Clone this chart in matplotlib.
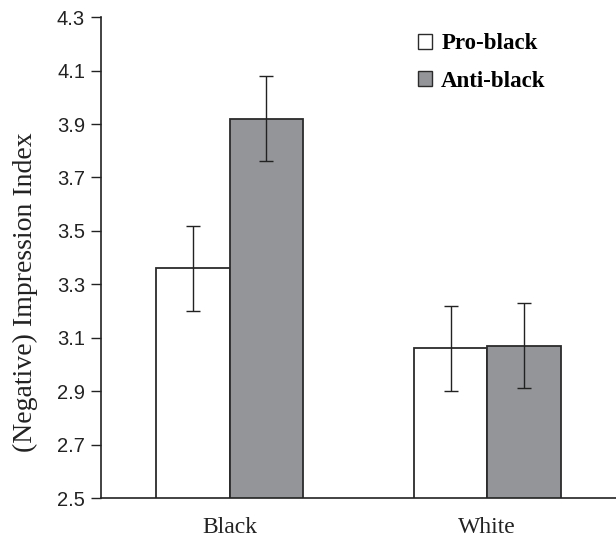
import matplotlib.pyplot as plt
import numpy as np
from matplotlib.patches import Patch

categorias = ["Black", "White"]
series = ["Pro-black", "Anti-black"]
pro_black = [3.36, 3.06]
anti_black = [3.92, 3.07]
erro_pro = [0.16, 0.16]
erro_anti = [0.16, 0.16]
yticks = [2.5, 2.7, 2.9, 3.1, 3.3, 3.5, 3.7, 3.9, 4.1, 4.3]

cores = ["white", "#939598"]
borda = "#2b2b2b"
texto = "#222222"

fig = plt.figure(figsize=(6.16, 5.37), dpi=100)
ax = fig.add_axes([0.164, 0.0726, 0.836, 0.8954])

x = np.arange(len(categorias))
largura = 0.285
erro_kw = dict(ecolor=texto, elinewidth=1.0, capthick=1.0)

ax.bar(x - largura / 2, pro_black, largura, color=cores[0],
       edgecolor=borda, linewidth=1.3, yerr=erro_pro, capsize=5,
       error_kw=erro_kw)
ax.bar(x + largura / 2, anti_black, largura, color=cores[1],
       edgecolor=borda, linewidth=1.3, yerr=erro_anti, capsize=5,
       error_kw=erro_kw)

ax.set_xlim(-0.5, 1.5)
ax.set_ylim(2.5, 4.3)
ax.set_yticks(yticks)
ax.set_yticklabels([f"{v:.1f}" for v in yticks], family="Liberation Sans",
                   fontsize=14.5, color=texto)
ax.set_xticks(x)
ax.set_xticklabels(categorias, family="Liberation Serif", fontsize=17,
                   color=texto)
ax.tick_params(axis="x", length=0, pad=13.5)
ax.tick_params(axis="y", length=7.5, width=1.0, color=texto, pad=4)

ax.spines["top"].set_visible(False)
ax.spines["right"].set_visible(False)
for lado in ["left", "bottom"]:
    ax.spines[lado].set_color(texto)
    ax.spines[lado].set_linewidth(1.2)

ax.set_ylabel("(Negative) Impression Index", family="Liberation Serif",
              fontsize=20, color=texto)
ax.yaxis.set_label_coords(-0.122, 0.428)

handles = [Patch(facecolor=c, edgecolor=borda, linewidth=1.0) for c in cores]
ax.legend(handles, series, loc="upper left", bbox_to_anchor=(0.576, 1.009),
          frameon=False, handlelength=0.6, handleheight=0.6, handletextpad=0.4,
          labelspacing=0.71,
          prop=dict(family="Liberation Serif", weight="bold", size=16.5))

fig.savefig("out.png", dpi=100)
